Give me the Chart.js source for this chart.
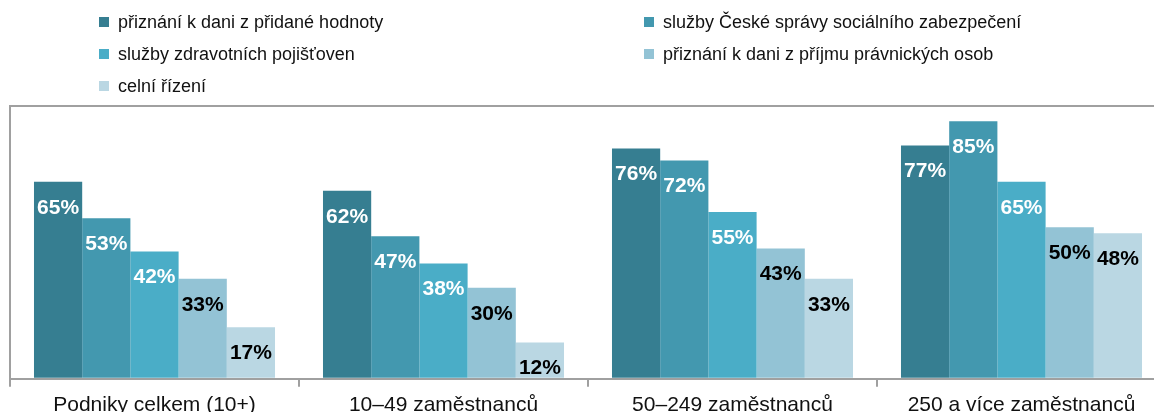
<!DOCTYPE html>
<html>
<head>
<meta charset="utf-8">
<script src="https://cdn.jsdelivr.net/npm/chart.js@4"></script>
<style>
  html, body { margin: 0; padding: 0; background: #fff; overflow: hidden; }
  body { width: 1154px; height: 412px; position: relative; font-family: "Liberation Sans", Arial, sans-serif; }
  #chart { position: absolute; left: 0; top: 0; }
  #legend {
    position: absolute; left: 99px; top: 6px;
    display: grid; grid-template-columns: 545px auto; grid-auto-rows: 32px;
    font-size: 18px; color: #111;
  }
  .item { display: flex; align-items: center; }
  .box { width: 10px; height: 10px; margin-right: 9px; }
</style>
</head>
<body>
<canvas id="chart" width="1170" height="424"></canvas>
<div id="legend"></div>
<script>
const categories = ["Podniky celkem (10+)", "10–49 zaměstnanců", "50–249 zaměstnanců", "250 a více zaměstnanců"];
const seriesNames = [
  "přiznání k dani z přidané hodnoty",
  "služby České správy sociálního zabezpečení",
  "služby zdravotních pojišťoven",
  "přiznání k dani z příjmu právnických osob",
  "celní řízení"
];
const dph = [65, 62, 76, 77];
const cssz = [53, 47, 72, 85];
const zdravotni = [42, 38, 55, 65];
const dppo = [33, 30, 43, 50];
const celni = [17, 12, 33, 48];
const colors = ["#367e91", "#4398af", "#4aadc7", "#93c3d5", "#bad7e3"];
const labelColors = ["#fff", "#fff", "#fff", "#000", "#000"];

const seriesValues = [dph, cssz, zdravotni, dppo, celni];

// legenda ve dvou sloupcích
const legend = document.getElementById("legend");
seriesNames.forEach((name, i) => {
  const el = document.createElement("div");
  el.className = "item";
  el.innerHTML = '<span class="box" style="background:' + colors[i] + '"></span><span>' + name + '</span>';
  legend.appendChild(el);
});

// popisky hodnot uvnitř sloupců
const valueLabels = {
  id: "valueLabels",
  afterDatasetsDraw(chart) {
    const ctx = chart.ctx;
    ctx.save();
    ctx.font = "bold 21px 'Liberation Sans', Arial, sans-serif";
    ctx.textAlign = "center";
    ctx.textBaseline = "middle";
    chart.data.datasets.forEach((ds, i) => {
      chart.getDatasetMeta(i).data.forEach((bar, j) => {
        ctx.fillStyle = labelColors[i];
        ctx.fillText(ds.data[j] + "%", bar.x, bar.y + 26);
      });
    });
    ctx.restore();
  }
};

new Chart(document.getElementById("chart"), {
  type: "bar",
  data: {
    labels: categories,
    datasets: seriesNames.map((name, i) => ({
      label: name,
      data: seriesValues[i],
      backgroundColor: colors[i],
      borderWidth: 0,
      categoryPercentage: 0.834,
      barPercentage: 1
    }))
  },
  options: {
    responsive: false,
    animation: false,
    devicePixelRatio: 1,
    layout: { padding: { left: 10, right: 4, top: 106, bottom: 0 } },
    plugins: { legend: { display: false }, tooltip: { enabled: false } },
    scales: {
      x: {
        grid: { offset: true, drawOnChartArea: false, tickLength: 8, color: "#a0a0a0", lineWidth: 2 },
        border: { color: "#a0a0a0", width: 2 },
        ticks: { color: "#111", font: { size: 21, family: "'Liberation Sans', Arial, sans-serif" }, padding: 6, maxRotation: 0 }
      },
      y: {
        min: 0, max: 90,
        ticks: { display: false, stepSize: 90 },
        grid: { drawTicks: false, lineWidth: 2, color: c => c.tick.value === 90 ? "#a0a0a0" : "rgba(0,0,0,0)" },
        border: { color: "#a0a0a0", width: 2 }
      }
    }
  },
  plugins: [valueLabels]
});
</script>
</body>
</html>
